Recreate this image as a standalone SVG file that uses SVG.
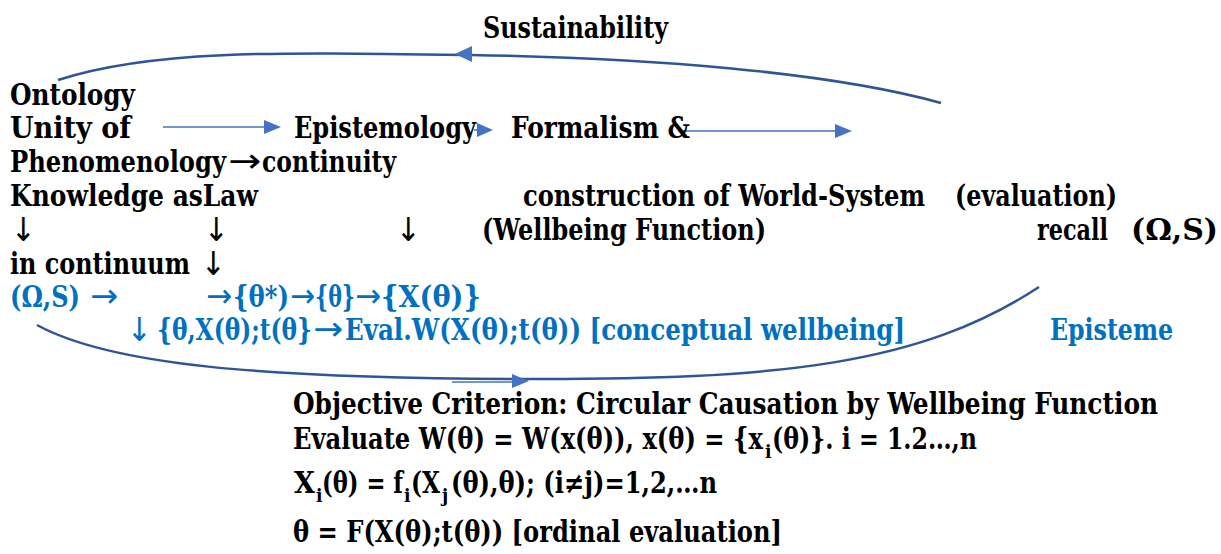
<svg xmlns="http://www.w3.org/2000/svg" width="1221" height="554" viewBox="0 0 1221 554">
<style>
text{font-family:"DejaVu Serif Condensed","DejaVu Serif","Liberation Serif",serif;font-stretch:condensed;font-weight:bold;font-size:29px;fill:#000}
.b{fill:#0070C0}
.sub{font-size:19px}
.ar{font-family:"DejaVu Sans Condensed","DejaVu Sans",sans-serif;font-weight:normal;font-size:33px}
.curve{fill:none;stroke:#2F5597;stroke-width:2.5}
.thin{fill:none;stroke:#4472C4;stroke-width:1.6}
.head{fill:#4472C4}
</style>
<rect width="1221" height="554" fill="#fff"/>
<g id="connectors">
<path class="curve" d="M58,80 C150,50 270,52 470,55 C650,58 830,72 941,103"/>
<path class="head" d="M455,54 L472,46 L472,62 Z"/>
<path class="curve" d="M37,325 C110,365 260,378 520,379 C780,380 920,365 1039,287"/>
<line class="thin" x1="452" y1="382" x2="514" y2="382"/>
<path class="head" d="M529,381 L512,374 L512,388 Z"/>
<line class="thin" x1="163" y1="127" x2="266" y2="127"/>
<path class="head" d="M281,127 L264,120 L264,134 Z"/>
<line class="thin" x1="474" y1="130" x2="480" y2="130"/>
<path class="head" d="M493,130 L477,123 L477,137 Z"/>
<line class="thin" x1="680" y1="131" x2="837" y2="131"/>
<path class="head" d="M852,131 L835,124 L835,138 Z"/>
</g>
<g id="sustainability"><text x="483" y="38" textLength="185" lengthAdjust="spacingAndGlyphs">Sustainability</text></g>
<g id="ontology">
<text x="10" y="105" textLength="125" lengthAdjust="spacingAndGlyphs">Ontology</text>
<text x="10" y="138" textLength="121" lengthAdjust="spacingAndGlyphs">Unity of</text>
<text x="10" y="172" textLength="216" lengthAdjust="spacingAndGlyphs">Phenomenology</text>
<text class="ar" x="228" y="172" textLength="33" lengthAdjust="spacingAndGlyphs">→</text>
<text x="262" y="172" textLength="134" lengthAdjust="spacingAndGlyphs">continuity</text>
<text x="10" y="206" textLength="248" lengthAdjust="spacingAndGlyphs">Knowledge asLaw</text>
</g>
<g id="epistemology"><text x="294" y="138" textLength="182" lengthAdjust="spacingAndGlyphs">Epistemology</text></g>
<g id="formalism">
<text x="511" y="138" textLength="179" lengthAdjust="spacingAndGlyphs">Formalism &amp;</text>
<text x="523" y="206" textLength="402" lengthAdjust="spacingAndGlyphs">construction of World-System</text>
<text x="955" y="206" textLength="162" lengthAdjust="spacingAndGlyphs">(evaluation)</text>
<text x="482" y="240" textLength="284" lengthAdjust="spacingAndGlyphs">(Wellbeing Function)</text>
</g>
<g id="recall">
<text x="1037" y="240" textLength="71" lengthAdjust="spacingAndGlyphs">recall</text>
<text x="1131" y="240" textLength="87" lengthAdjust="spacingAndGlyphs">(Ω,S)</text>
</g>
<g id="down-arrows">
<text class="ar" x="11" y="241">↓</text>
<text class="ar" x="204" y="241">↓</text>
<text class="ar" x="396" y="241">↓</text>
<text x="10" y="274" textLength="180" lengthAdjust="spacingAndGlyphs">in continuum</text>
<text class="ar" x="201" y="275">↓</text>
</g>
<g id="episteme-chain">
<text class="b" x="10" y="307" textLength="70" lengthAdjust="spacingAndGlyphs">(Ω,S)</text>
<text class="b ar" x="90" y="307" textLength="28" lengthAdjust="spacingAndGlyphs">→</text>
<text class="b ar" x="206" y="307" textLength="26" lengthAdjust="spacingAndGlyphs">→</text>
<text class="b" x="233" y="307" textLength="56" lengthAdjust="spacingAndGlyphs">{θ*)</text>
<text class="b ar" x="290" y="307" textLength="25" lengthAdjust="spacingAndGlyphs">→</text>
<text class="b" x="315" y="307" textLength="40" lengthAdjust="spacingAndGlyphs">{θ}</text>
<text class="b ar" x="355" y="307" textLength="26" lengthAdjust="spacingAndGlyphs">→</text>
<text class="b" x="381" y="307" textLength="100" lengthAdjust="spacingAndGlyphs">{X(θ)}</text>
<text class="b ar" x="127" y="341">↓</text>
<text class="b" x="157" y="340" textLength="155" lengthAdjust="spacingAndGlyphs">{θ,X(θ);t(θ}</text>
<text class="b ar" x="313" y="340" textLength="30" lengthAdjust="spacingAndGlyphs">→</text>
<text class="b" x="345" y="340" textLength="560" lengthAdjust="spacingAndGlyphs">Eval.W(X(θ);t(θ)) [conceptual wellbeing]</text>
<text class="b" x="1050" y="340" textLength="123" lengthAdjust="spacingAndGlyphs">Episteme</text>
</g>
<g id="objective-criterion">
<text x="293" y="414" textLength="865" lengthAdjust="spacingAndGlyphs">Objective Criterion: Circular Causation by Wellbeing Function</text>
<text x="293" y="449" textLength="470" lengthAdjust="spacingAndGlyphs">Evaluate W(θ) = W(x(θ)), x(θ) = {x</text>
<text class="sub" x="765" y="458">i</text>
<text x="772" y="449" textLength="205" lengthAdjust="spacingAndGlyphs">(θ)}. i = 1.2…,n</text>
<text x="294" y="493" textLength="21" lengthAdjust="spacingAndGlyphs">X</text>
<text class="sub" x="316" y="502">i</text>
<text x="322" y="493" textLength="81" lengthAdjust="spacingAndGlyphs">(θ) = f</text>
<text class="sub" x="404" y="502">i</text>
<text x="411" y="493" textLength="29" lengthAdjust="spacingAndGlyphs">(X</text>
<text class="sub" x="442" y="502">j</text>
<text x="451" y="493" textLength="266" lengthAdjust="spacingAndGlyphs">(θ),θ); (i≠j)=1,2,…n</text>
<text x="293" y="542" textLength="489" lengthAdjust="spacingAndGlyphs">θ = F(X(θ);t(θ)) [ordinal evaluation]</text>
</g>
</svg>
